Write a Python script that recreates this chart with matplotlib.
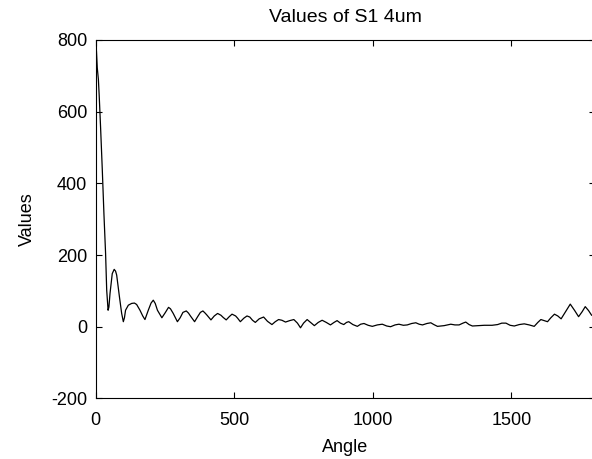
import matplotlib
matplotlib.use("Agg")
import matplotlib.pyplot as plt

# values (angle, value)
angle = [0, 3, 6, 10, 13, 18, 24, 30, 36, 40, 45, 48, 52, 60, 67, 72, 76, 86, 94, 100,
         104, 108, 118, 130, 140, 148, 160, 170, 178, 190, 200, 208, 215, 223, 239, 251,
         263, 270, 280, 295, 305, 315, 327, 335, 342, 357, 368, 378, 387, 395, 402, 416,
         428, 440, 452, 460, 471, 482, 492, 505, 512, 522, 535, 546, 556, 566, 576, 590,
         606, 620, 636, 648, 660, 672, 685, 700, 715, 728, 739, 750, 763, 775, 789, 803,
         817, 832, 847, 860, 871, 883, 895, 905, 913, 928, 944, 956, 968, 983, 998, 1016,
         1034, 1050, 1064, 1080, 1094, 1110, 1124, 1140, 1155, 1167, 1179, 1195, 1209, 1220,
         1233, 1257, 1281, 1296, 1311, 1325, 1335, 1347, 1359, 1380, 1402, 1430, 1450, 1465,
         1480, 1495, 1510, 1528, 1546, 1564, 1582, 1595, 1606, 1618, 1630, 1642, 1655, 1667,
         1679, 1695, 1712, 1728, 1742, 1755, 1766, 1778, 1789, 1800]
values = [765, 770, 722, 690, 644, 555, 440, 315, 204, 102, 46, 55, 93, 148, 160, 155, 144, 83, 37, 14,
          25, 46, 60, 65, 66, 62, 46, 30, 20, 46, 66, 74, 65, 46, 25, 39,
          54, 50, 37, 14, 25, 40, 44, 38, 30, 14, 28, 40, 44, 38, 32, 19,
          30, 37, 32, 26, 19, 28, 35, 30, 24, 14, 24, 30, 27, 18, 12, 22,
          27, 15, 6, 14, 20, 18, 13, 17, 20, 10, -3, 10, 20, 12, 3, 12,
          18, 12, 5, 12, 17, 10, 6, 12, 14, 6, 1, 7, 9, 4, 1, 5,
          7, 2, 0, 5, 7, 4, 5, 9, 11, 7, 5, 9, 11, 6,
          1, 3, 7, 5, 5, 10, 13, 6, 2, 3, 4, 4, 6, 10,
          10, 4, 2, 6, 8, 5, 1, 12, 20, 17, 14, 25, 35, 30,
          22, 42, 63, 45, 28, 42, 56, 45, 32, 30]

x_ticks = [0, 500, 1000, 1500]
y_ticks = [-200, 0, 200, 400, 600, 800]

plt.rcParams["font.family"] = ["Liberation Sans", "DejaVu Sans"]
plt.rcParams["font.size"] = 13
plt.rcParams["axes.unicode_minus"] = False

fig = plt.figure(figsize=(5.92, 4.59), dpi=100)
# axes runs slightly past the right edge, as in the cropped reference
ax = fig.add_axes([0.1615, 0.132, 0.843, 0.781])
ax.plot(angle, values, color="black", linewidth=0.9)

ax.set_xlim(0, 1800)
ax.set_ylim(-200, 800)
ax.set_xticks(x_ticks)
ax.set_yticks(y_ticks)
ax.tick_params(direction="in", length=4, width=0.8, top=True, right=True)
ax.tick_params(axis="x", pad=10)
ax.tick_params(axis="y", pad=6)
for s in ax.spines.values():
    s.set_linewidth(0.8)

ax.set_title("Values of S1 4um", fontsize=14, pad=13)
ax.set_xlabel("Angle", labelpad=7)
ax.set_ylabel("Values", labelpad=11)

fig.savefig("out.png", dpi=100)
